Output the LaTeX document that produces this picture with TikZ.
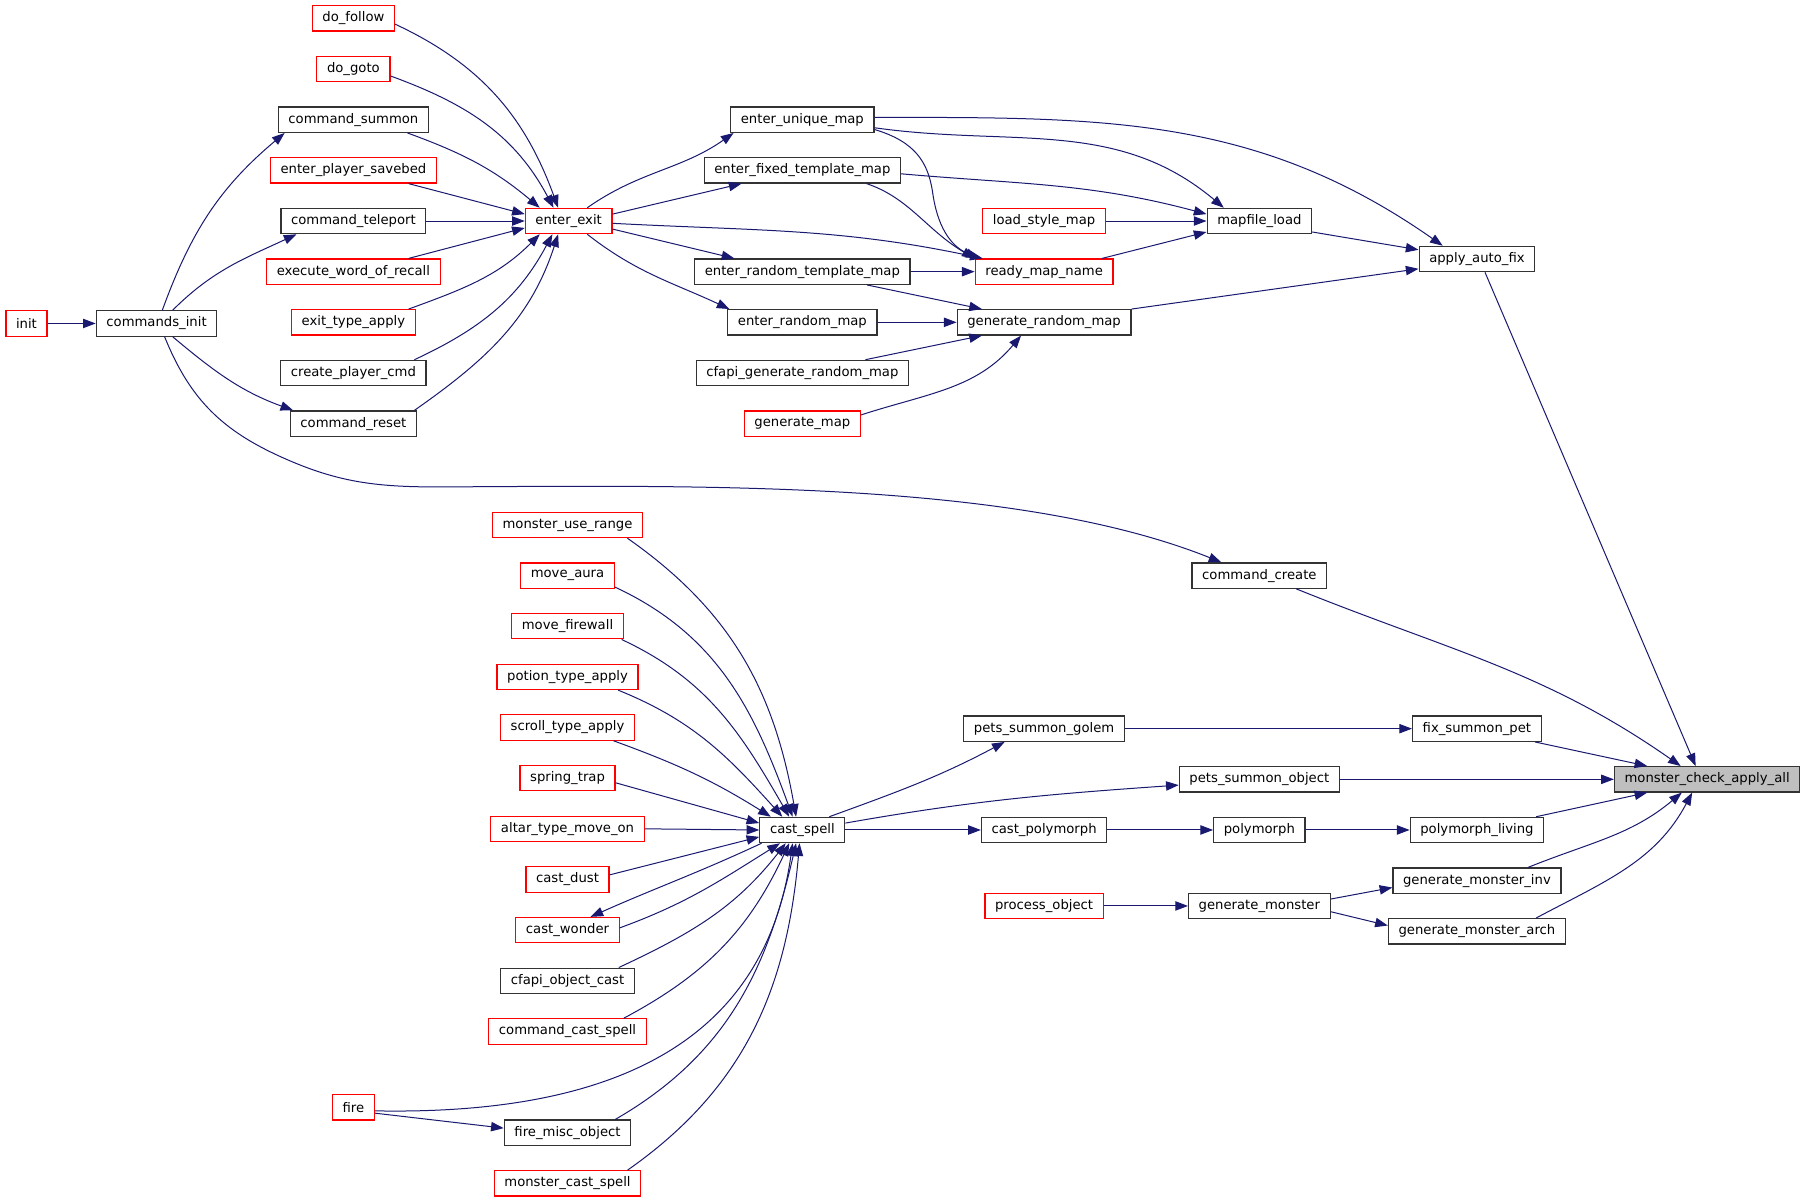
\documentclass[tikz,border=0pt]{standalone}
\usepackage{fontspec}
\setmainfont{DejaVu Sans}
\usetikzlibrary{arrows.meta,calc}
\definecolor{edgec}{HTML}{191970}
\definecolor{redc}{HTML}{FF0000}
\definecolor{blkc}{HTML}{333333}
\definecolor{gfill}{HTML}{BFBFBF}
\tikzset{
  fn/.style={draw=blkc, line width=0.9pt, rectangle, minimum height=19pt, inner ysep=0pt, inner xsep=7.6pt, font=\fontsize{9.9}{11}\selectfont, text=black},
  rn/.style={fn, draw=redc},
  hn/.style={fn, fill=gfill},
  ed/.style={draw=edgec, line width=0.75pt, -{Triangle[length=9.5pt,width=7pt]}}
}
\begin{document}
\begin{tikzpicture}[x=0.8633pt, y=-0.8633pt]
\fill[white] (0,0) rectangle (1568,1045);
\useasboundingbox (0,0) rectangle (1568,1045);
% nodes - upper left
\node[rn] (dof) at (307,16) {do\_follow};
\node[rn] (dog) at (307,60) {do\_goto};
\node[fn] (csum) at (307,104) {command\_summon};
\node[rn] (eps) at (307,148) {enter\_player\_savebed};
\node[fn] (ctel) at (307,192) {command\_teleport};
\node[rn] (ewr) at (307,236) {execute\_word\_of\_recall};
\node[rn] (eta) at (307,280) {exit\_type\_apply};
\node[fn] (cpc) at (307,324) {create\_player\_cmd};
\node[fn] (cres) at (307,368) {command\_reset};
\node[rn] (init) at (23,281) {init};
\node[fn] (cinit) at (136,281) {commands\_init};
\node[rn] (ee) at (494,192) {enter\_exit};
\node[fn] (eum) at (697,104) {enter\_unique\_map};
\node[fn] (eftm) at (697,148) {enter\_fixed\_template\_map};
\node[fn] (ertm) at (697,236) {enter\_random\_template\_map};
\node[fn] (erm) at (697,280) {enter\_random\_map};
\node[fn] (cgrm) at (697,324) {cfapi\_generate\_random\_map};
\node[rn] (gm) at (697,368) {generate\_map};
\node[rn] (lsm) at (907,192) {load\_style\_map};
\node[rn] (rmn) at (907,236) {ready\_map\_name};
\node[fn] (grm) at (907,280) {generate\_random\_map};
\node[fn] (mfl) at (1094,192) {mapfile\_load};
\node[fn] (aaf) at (1283,225) {apply\_auto\_fix};
\node[fn] (ccr) at (1094,500) {command\_create};
% right / lower
\node[hn] (mca) at (1483,677) {monster\_check\_apply\_all};
\node[fn] (fsp) at (1283,633) {fix\_summon\_pet};
\node[fn] (pso) at (1094,677) {pets\_summon\_object};
\node[fn] (pl) at (1283,721) {polymorph\_living};
\node[fn] (gmi) at (1283,765) {generate\_monster\_inv};
\node[fn] (gma) at (1283,809) {generate\_monster\_arch};
\node[fn] (gmo) at (1094,787) {generate\_monster};
\node[rn] (po) at (907,787) {process\_object};
\node[fn] (psg) at (907,633) {pets\_summon\_golem};
\node[fn] (cpoly) at (907,721) {cast\_polymorph};
\node[fn] (poly) at (1094,721) {polymorph};
\node[fn] (cs) at (697,721) {cast\_spell};
% lower left
\node[rn] (mur) at (493,456) {monster\_use\_range};
\node[rn] (ma) at (493,500) {move\_aura};
\node[rn] (mf) at (493,544) {move\_firewall};
\node[rn] (pta) at (493,588) {potion\_type\_apply};
\node[rn] (sta) at (493,632) {scroll\_type\_apply};
\node[rn] (st) at (493,676) {spring\_trap};
\node[rn] (atmo) at (493,720) {altar\_type\_move\_on};
\node[rn] (cd) at (493,764) {cast\_dust};
\node[rn] (cw) at (493,808) {cast\_wonder};
\node[fn] (coc) at (493,852) {cfapi\_object\_cast};
\node[rn] (ccs) at (493,896) {command\_cast\_spell};
\node[fn] (fmo) at (493,984) {fire\_misc\_object};
\node[rn] (mcs) at (493,1028) {monster\_cast\_spell};
\node[rn] (fire) at (307,962) {fire};

% edges into enter_exit
\draw[ed] ($(dof.east)+(0,5)$) to[out=-25,in=110] ($(ee.north west)+(29,0)$);
\draw[ed] ($(dog.east)+(0,6)$) to[out=-20,in=118] ($(ee.north west)+(25,0)$);
\draw[ed] ($(csum.south)+(47,0)$) to[out=-20,in=140] ($(ee.north west)+(13,0)$);
\draw[ed] ($(eps.south)+(48,0)$) -- ($(ee.west)+(0,-6)$);
\draw[ed] (ctel.east) -- (ee.west);
\draw[ed] ($(ewr.north)+(48,0)$) -- ($(ee.west)+(0,6)$);
\draw[ed] ($(eta.north)+(48,0)$) to[out=20,in=-135] ($(ee.south west)+(13,0)$);
\draw[ed] ($(cpc.north)+(53,0)$) to[out=25,in=-118] ($(ee.south west)+(24,0)$);
\draw[ed] ($(cres.north)+(53,0)$) to[out=35,in=-108] ($(ee.south west)+(29,0)$);
% commands_init
\draw[ed] (init.east) -- (cinit.west);
\draw[ed] ($(cinit.north)+(5,0)$) to[out=70,in=-140] ($(csum.south west)+(6,0)$);
\draw[ed] ($(cinit.north)+(14,0)$) to[out=45,in=-155] ($(ctel.south west)+(14,0)$);
\draw[ed] ($(cinit.south)+(14,0)$) to[out=-40,in=160] ($(cres.north west)+(3,0)$);
\draw[ed] ($(cinit.south)+(7,0)$) to[out=-68,in=155] (240,395) to[out=-25,in=180] (380,423) .. controls (600,422) and (880,416) .. ($(ccr.north west)+(26,0)$);
% from enter_exit
\draw[ed] ($(ee.north east)+(-22,0)$) to[out=35,in=-145] ($(eum.south west)+(3,0)$);
\draw[ed] ($(ee.east)+(0,-6)$) -- ($(eftm.south west)+(33,0)$);
\draw[ed] ($(ee.east)+(0,2)$) to[out=-3,in=168] ($(rmn.north west)+(7,0)$);
\draw[ed] ($(ee.east)+(0,7)$) -- ($(ertm.north west)+(35,0)$);
\draw[ed] ($(ee.south east)+(-22,0)$) to[out=-38,in=155] ($(erm.north west)+(2,0)$);
% middle
\draw[ed] ($(eum.south east)+(0,-3)$) .. controls (795,123) and (806,141) .. (810,166) .. controls (814,196) and (825,213) .. ($(rmn.north west)+(3,0)$);
\draw[ed] ($(eum.east)+(0,7)$) to[out=-8,in=140] ($(mfl.north west)+(15,0)$);
\draw[ed] ($(eum.east)+(0,-2)$) to[out=0,in=145] ($(aaf.north west)+(21,0)$);
\draw[ed] ($(eftm.east)+(0,3)$) to[out=-5,in=165] ($(mfl.west)+(0,-6)$);
\draw[ed] ($(eftm.south east)+(-30,0)$) .. controls (790,172) and (805,200) .. (rmn.north west);
\draw[ed] (lsm.east) -- (mfl.west);
\draw[ed] ($(rmn.north east)+(-10,0)$) -- ($(mfl.south west)+(0,-2)$);
\draw[ed] (ertm.east) -- (rmn.west);
\draw[ed] ($(ertm.south east)+(-38,0)$) -- ($(grm.north west)+(22,0)$);
\draw[ed] (erm.east) -- (grm.west);
\draw[ed] ($(cgrm.north east)+(-38,0)$) -- ($(grm.south west)+(22,0)$);
\draw[ed] ($(gm.north east)+(0,4)$) to[out=18,in=-130] ($(grm.south west)+(56,0)$);
\draw[ed] (grm.north east) -- ($(aaf.south west)+(0,-3)$);
\draw[ed] ($(mfl.south east)+(0,-2)$) -- ($(aaf.west)+(0,-8)$);
% into monster_check_apply_all
\draw[ed] ($(aaf.south)+(7,0)$) -- ($(mca.north)+(-10,0)$);
\draw[ed] ($(ccr.south)+(32,0)$) to[out=-22,in=145] ($(mca.north)+(-23,0)$);
\draw[ed] ($(fsp.south east)+(-6,0)$) -- ($(mca.north west)+(29,0)$);
\draw[ed] (pso.east) -- (mca.west);
\draw[ed] ($(pl.north east)+(-7,0)$) -- ($(mca.south west)+(29,0)$);
\draw[ed] ($(gmi.north east)+(-29,0)$) to[out=22,in=-140] ($(mca.south west)+(59,0)$);
\draw[ed] ($(gma.north east)+(-26,0)$) to[out=28,in=-118] ($(mca.south west)+(68,0)$);
% lower chain
\draw[ed] (psg.east) -- (fsp.west);
\draw[ed] ($(cs.north east)+(-14,0)$) to[out=20,in=-152] ($(psg.south west)+(36,0)$);
\draw[ed] ($(cs.east)+(0,-6)$) to[out=10,in=-176] ($(pso.west)+(0,5)$);
\draw[ed] (cs.east) -- (cpoly.west);
\draw[ed] (cpoly.east) -- (poly.west);
\draw[ed] (poly.east) -- (pl.west);
\draw[ed] (po.east) -- (gmo.west);
\draw[ed] ($(gmo.east)+(0,-6)$) -- ($(gmi.west)+(0,6)$);
\draw[ed] ($(gmo.east)+(0,5)$) -- ($(gma.west)+(0,-5)$);
% into cast_spell
\draw[ed] ($(mur.south)+(52,0)$) to[out=-35,in=100] ($(cs.north west)+(32,0)$);
\draw[ed] ($(ma.east)+(0,10)$) to[out=-25,in=110] ($(cs.north west)+(29,0)$);
\draw[ed] ($(mf.south)+(47,0)$) to[out=-25,in=120] ($(cs.north west)+(26,0)$);
\draw[ed] ($(pta.south)+(44,0)$) to[out=-22,in=132] ($(cs.north west)+(20,0)$);
\draw[ed] ($(sta.south)+(40,0)$) to[out=-20,in=148] ($(cs.north west)+(10,0)$);
\draw[ed] ($(st.east)+(0,4)$) -- ($(cs.west)+(0,-6)$);
\draw[ed] (atmo.east) -- (cs.west);
\draw[ed] ($(cd.east)+(0,-4)$) -- ($(cs.west)+(0,6)$);
\draw[ed] ($(cs.south west)+(2,0)$) to[out=-155,in=24] ($(cw.north)+(20,0)$);
\draw[ed] ($(cw.east)+(0,-2)$) to[out=20,in=-148] ($(cs.south west)+(18,0)$);
\draw[ed] ($(coc.north east)+(-14,0)$) to[out=25,in=-128] ($(cs.south west)+(23,0)$);
\draw[ed] ($(ccs.north east)+(-20,0)$) to[out=28,in=-115] ($(cs.south west)+(26,0)$);
\draw[ed] ($(fire.east)+(0,3)$) .. controls (540,969) and (665,901) .. ($(cs.south west)+(29,0)$);
\draw[ed] ($(fire.east)+(0,5)$) -- ($(fmo.west)+(0,-4)$);
\draw[ed] ($(fmo.north east)+(-14,0)$) to[out=30,in=-103] ($(cs.south west)+(32,0)$);
\draw[ed] ($(mcs.north east)+(-12,0)$) to[out=35,in=-95] ($(cs.south west)+(35,0)$);
\end{tikzpicture}
\end{document}
